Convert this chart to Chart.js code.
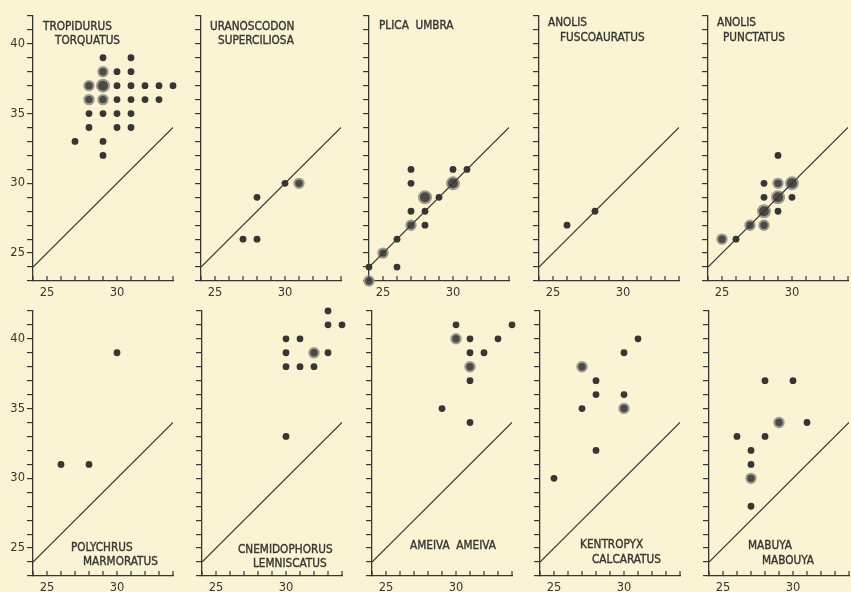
<!DOCTYPE html>
<html>
<head>
<meta charset="utf-8">
<script src="https://cdn.jsdelivr.net/npm/chart.js@4.4.1/dist/chart.umd.min.js"></script>
<style>
  html, body { margin: 0; padding: 0; background: #faf4d4; }
  body { width: 851px; height: 592px; position: relative; overflow: hidden; }
  canvas { position: absolute; }
</style>
</head>
<body>
<script>
// body temperature (y) against air temperature (x); each point is [x, y, number of records]
const speciesNames = [
  ['TROPIDURUS', 'TORQUATUS'],
  ['URANOSCODON', 'SUPERCILIOSA'],
  ['PLICA  UMBRA'],
  ['ANOLIS', 'FUSCOAURATUS'],
  ['ANOLIS', 'PUNCTATUS'],
  ['POLYCHRUS', 'MARMORATUS'],
  ['CNEMIDOPHORUS', 'LEMNISCATUS'],
  ['AMEIVA  AMEIVA'],
  ['KENTROPYX', 'CALCARATUS'],
  ['MABUYA', 'MABOUYA']
];

const tropidurus = [
  [29, 39, 1], [31, 39, 1],
  [29, 38, 2], [30, 38, 1], [31, 38, 1],
  [28, 37, 2], [29, 37, 3], [30, 37, 1], [31, 37, 1], [32, 37, 1], [33, 37, 1], [34, 37, 1],
  [28, 36, 2], [29, 36, 2], [30, 36, 1], [31, 36, 1], [32, 36, 1], [33, 36, 1], [34.3, 36, 1],
  [28, 35, 1], [29, 35, 1], [30, 35, 1], [31, 35, 1],
  [28, 34, 1], [30, 34, 1], [31, 34, 1],
  [27, 33, 1], [29, 33, 1],
  [29, 32, 1]
];
const uranoscodon = [[27, 26, 1], [28, 26, 1], [28, 29, 1], [30, 30, 1], [31, 30, 2]];
const plica = [
  [24, 23, 2], [24, 24, 1], [25, 25, 2], [26, 26, 1], [26, 24, 1],
  [27, 31, 1], [27, 30, 1], [27, 28, 1], [27, 27, 2],
  [28, 29, 3], [28, 28, 1], [28, 27, 1], [29, 29, 1],
  [30, 30, 3], [30, 31, 1], [31, 31, 1]
];
const anolisFusco = [[26, 27, 1], [28, 28, 1]];
const anolisPunct = [
  [25, 26, 2], [26, 26, 1], [27, 27, 2], [28, 27, 2], [28, 28, 3], [28, 29, 1], [28, 30, 1],
  [29, 32, 1], [29, 30, 2], [29, 29, 3], [29, 28, 1], [30, 30, 3], [30, 29, 1]
];
const polychrus = [[26, 31, 1], [28, 31, 1], [30, 39, 1]];
const cnemidophorus = [
  [33, 42, 1], [33, 41, 1], [34, 41, 1], [30, 40, 1], [31, 40, 1],
  [30, 39, 1], [32, 39, 2], [33, 39, 1], [30, 38, 1], [31, 38, 1], [32, 38, 1], [30, 33, 1]
];
const ameiva = [
  [30, 41, 1], [34, 41, 1], [30, 40, 2], [31, 40, 1], [33, 40, 1], [31, 39, 1], [32, 39, 1],
  [31, 38, 2], [31, 37, 1], [29, 35, 1], [31, 34, 1]
];
const kentropyx = [
  [31, 40, 1], [30, 39, 1], [27, 38, 2], [28, 37, 1], [28, 36, 1], [30, 36, 1],
  [27, 35, 1], [30, 35, 2], [28, 32, 1], [25, 30, 1]
];
const mabuya = [
  [28, 37, 1], [30, 37, 1], [29, 34, 2], [31, 34, 1], [26, 33, 1], [28, 33, 1],
  [27, 32, 1], [27, 31, 1], [27, 30, 2], [27, 28, 1]
];
const speciesPoints = [tropidurus, uranoscodon, plica, anolisFusco, anolisPunct,
  polychrus, cnemidophorus, ameiva, kentropyx, mabuya];

const xRange = [24, 34];
const yRange = [23, 42];
const xTickLabels = [25, 30];
const yTickLabels = [25, 30, 35, 40];
const diagonal = [24, 34];

// layout
const panelLeft = [[33, 201, 369, 539, 708], [33, 202, 372, 540, 709]];
const rowTop = [15, 310];
const plotW = 140, plotH = 266;
const padL = 36, padT = 8, padR = 12, padB = 24;
// title line positions: [dx from plot left, baseline from plot top]
const titlePos = [
  [[10, 14], [22, 28]],
  [[9, 14], [17, 28]],
  [[10, 13]],
  [[9, 10], [21, 25]],
  [[9, 10], [15, 25]],
  [[38, 240], [50, 254]],
  [[36, 242], [51, 256]],
  [[38, 238]],
  [[40, 237], [52, 252]],
  [[39, 238], [53, 253]]
];

const ink = '#363632';
const dotRadius = { 1: 3.4, 2: 4.7, 3: 6 };
const tickFont = { family: '"DejaVu Sans", sans-serif', size: 11.5 };

const innerTicks = {
  id: 'innerTicks',
  afterDraw(chart) {
    const { ctx, chartArea: a } = chart;
    const x = chart.scales.x;
    ctx.save();
    ctx.strokeStyle = ink;
    ctx.lineWidth = 1.2;
    x.ticks.forEach(t => {
      const px = x.getPixelForValue(t.value);
      ctx.beginPath();
      ctx.moveTo(px, a.bottom);
      ctx.lineTo(px, a.bottom - 5);
      ctx.stroke();
    });
    ctx.restore();
  }
};

const panelTitle = {
  id: 'panelTitle',
  afterDraw(chart, args, opts) {
    const { ctx, chartArea: a } = chart;
    ctx.save();
    ctx.fillStyle = ink;
    ctx.strokeStyle = ink;
    ctx.lineWidth = 0.35;
    ctx.font = '11.7px "Liberation Sans Narrow", "DejaVu Sans Condensed", sans-serif';
    ctx.textBaseline = 'alphabetic';
    opts.lines.forEach((txt, k) => {
      const [dx, dy] = opts.pos[k];
      ctx.fillText(txt, a.left + dx, a.top + dy);
      ctx.strokeText(txt, a.left + dx, a.top + dy);
    });
    ctx.restore();
  }
};

function makePanel(i) {
  const row = Math.floor(i / 5), col = i % 5;
  const W = padL + plotW + padR, H = padT + plotH + padB;
  const cv = document.createElement('canvas');
  cv.width = W;
  cv.height = H;
  cv.style.left = (panelLeft[row][col] - padL) + 'px';
  cv.style.top = (rowTop[row] - padT) + 'px';
  document.body.appendChild(cv);

  new Chart(cv, {
    type: 'scatter',
    data: {
      datasets: [
        {
          type: 'line',
          data: diagonal.map(v => ({ x: v, y: v })),
          borderColor: ink,
          borderWidth: 1.2,
          pointRadius: 0,
          fill: false
        },
        {
          data: speciesPoints[i].map(([x, y, n]) => ({ x, y, n })),
          pointRadius: c => dotRadius[c.raw.n],
          backgroundColor: c => c.raw.n > 1 ? '#4a4a46' : ink,
          borderColor: c => c.raw.n > 1 ? '#9c9a90' : ink,
          borderWidth: c => c.raw.n > 1 ? 2 : 0,
          clip: false
        }
      ]
    },
    options: {
      responsive: false,
      animation: false,
      devicePixelRatio: 1,
      layout: { padding: { left: 0, top: padT, right: padR, bottom: 0 } },
      plugins: {
        legend: { display: false },
        tooltip: { enabled: false },
        panelTitle: { lines: speciesNames[i], pos: titlePos[i] }
      },
      scales: {
        x: {
          type: 'linear',
          min: xRange[0],
          max: xRange[1],
          afterFit: s => { s.height = padB; },
          ticks: {
            stepSize: 1, autoSkip: false, maxRotation: 0, padding: 5,
            font: tickFont, color: ink,
            callback: v => xTickLabels.includes(v) ? v : ''
          },
          grid: { drawOnChartArea: false, drawTicks: false, color: ink },
          border: { color: ink, width: 1.3 }
        },
        y: {
          min: yRange[0],
          max: yRange[1],
          afterFit: s => { s.width = padL; },
          ticks: {
            stepSize: 1, autoSkip: false, padding: 2,
            font: tickFont, color: ink,
            callback: v => (col === 0 && yTickLabels.includes(v)) ? v : ''
          },
          grid: { drawOnChartArea: false, drawTicks: true, tickLength: 6, color: ink, lineWidth: 1.2 },
          border: { color: ink, width: 1.3 }
        }
      }
    },
    plugins: [innerTicks, panelTitle]
  });
}

for (let i = 0; i < 10; i++) makePanel(i);
</script>
</body>
</html>
